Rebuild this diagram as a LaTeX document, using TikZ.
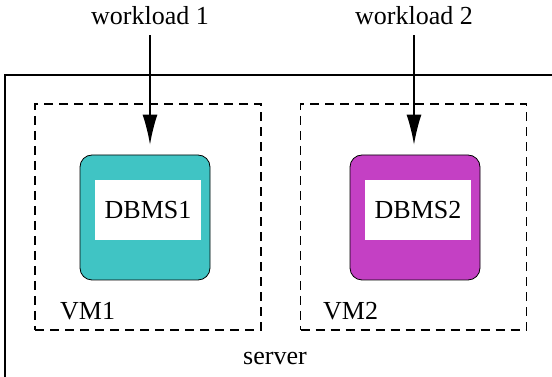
\documentclass[tikz,border=0pt]{standalone}
\usepackage{fontspec}
\setmainfont{Liberation Serif}
\usepackage{xcolor}
\usetikzlibrary{arrows.meta, positioning}

\definecolor{dbcyan}{RGB}{64,196,196}
\definecolor{dbmagenta}{RGB}{196,64,196}

\begin{document}
\begin{tikzpicture}[x=1pt, y=1pt, font=\fontsize{26}{30}\selectfont]
    % Define styles
    \tikzstyle{vmbox} = [rectangle, draw=black, line width=1.3pt, dash pattern=on 9pt off 6pt, minimum width=226pt, minimum height=226pt, inner sep=0pt]
    \tikzstyle{dbms} = [rectangle, rounded corners=12pt, draw=black, line width=0.8pt, minimum width=130pt, minimum height=125pt, inner sep=0pt]
    \tikzstyle{label} = [rectangle, fill=white, minimum width=106pt, minimum height=60pt, inner sep=0pt]
    \tikzstyle{load} = [inner sep=0pt, anchor=base]

    \useasboundingbox (0,0) rectangle (552,377);

    % Server (runs off the page)
    \begin{scope}
        \clip (0,0) rectangle (552,377);
        \draw[line width=1.3pt] (5,302) rectangle (600,-30);
    \end{scope}
    \node[anchor=base] (server) at (275,12) {server};

    % Virtual machines
    \node[vmbox] (vmone) at (148,160) {};
    \node[vmbox] (vmtwo) at (413.5,160) {};
    \node[anchor=base west, inner sep=0pt] (vmonelabel) at (60,57) {VM1};
    \node[anchor=base west, inner sep=0pt] (vmtwolabel) at (323,57) {VM2};

    % Database systems
    \node[dbms, fill=dbcyan] (dbmsone) at (145,159.5) {};
    \node[dbms, fill=dbmagenta] (dbmstwo) at (415,159.5) {};
    \node[label] (dbmsonetext) at (148,167) {DBMS1};
    \node[label] (dbmstwotext) at (418,167) {DBMS2};

    % Workloads
    \node[load] (wlone) at (150,352) {workload 1};
    \node[load] (wltwo) at (414,352) {workload 2};

    % Workload connections
    \draw[line width=1.3pt, -{Latex[length=30pt, width=15pt]}, shorten <=10pt, shorten >=10pt] (wlone.south) -- (wlone.south |- dbmsone.north);
    \draw[line width=1.3pt, -{Latex[length=30pt, width=15pt]}, shorten <=10pt, shorten >=10pt] (wltwo.south) -- (wltwo.south |- dbmstwo.north);

\end{tikzpicture}
\end{document}
